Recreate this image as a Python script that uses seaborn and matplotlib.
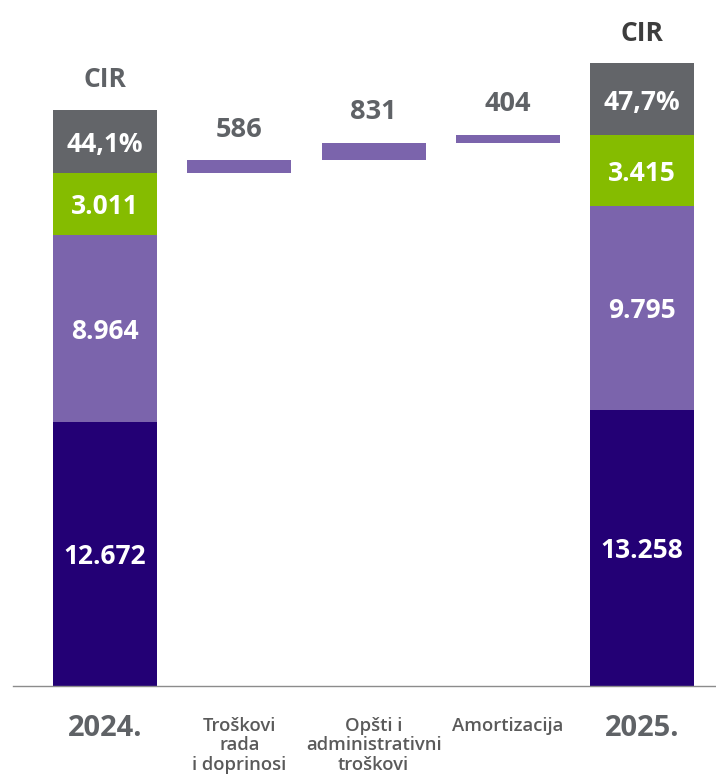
import numpy as np
import pandas as pd
import matplotlib
matplotlib.use("Agg")
import matplotlib.pyplot as plt
import seaborn as sns

# ---------------- data ----------------
categories = ["2024.", "Troškovi\nrada\ni doprinosi", "Opšti i\nadministrativni\ntroškovi",
              "Amortizacija", "2025."]
staff_costs = [12672, 0, 0, 0, 13258]      # Troškovi rada i doprinosi
admin_costs = [8964, 0, 0, 0, 9795]        # Opšti i administrativni troškovi
amortization = [3011, 0, 0, 0, 3415]       # Amortizacija
changes = [0, 586, 831, 404, 0]            # year-over-year increments
cir_labels = ["44,1%", "", "", "", "47,7%"]
value_labels_staff = ["12.672", "", "", "", "13.258"]
value_labels_admin = ["8.964", "", "", "", "9.795"]
value_labels_amort = ["3.011", "", "", "", "3.415"]
change_labels = ["", "586", "831", "404", ""]

# ---------------- style ----------------
NAVY = "#230075"
PURPLE = "#7B64AC"
GREEN = "#85BC00"
GRAY = "#636569"
TXT_GRAY = "#5f6266"

sns.set_theme(style="white")
plt.rcParams["font.family"] = ["Open Sans", "DejaVu Sans"]

fig = plt.figure(figsize=(7.16, 7.81), dpi=100)
ax = fig.add_axes([13 / 716, 95 / 781, 703 / 716, 686 / 781])

staff = np.array(staff_costs, dtype=float)
admin = np.array(admin_costs, dtype=float)
amort = np.array(amortization, dtype=float)
chg = np.array(changes, dtype=float)
totals = staff + admin + amort
is_year = totals > 0
# floating bars start at the previous year's total and accumulate
start_total = totals[0]
float_bottom = start_total + np.concatenate([[0], np.cumsum(chg)[:-1]])
float_bottom[is_year] = 0
cir_box = np.where(is_year, amort, 0)   # CIR box drawn with height of the green segment

W = 0.774


def bars(values, bottom, color):
    df = pd.DataFrame({"category": categories, "value": values})
    sns.barplot(data=df, x="category", y="value", order=categories, color=color,
                saturation=1, width=W, errorbar=None, bottom=np.asarray(bottom, dtype=float),
                linewidth=0, edgecolor="none", ax=ax)


bars(staff, np.zeros(5), NAVY)
bars(admin, staff, PURPLE)
bars(amort, staff + admin, GREEN)
bars(cir_box, totals, GRAY)
bars(chg, float_bottom, PURPLE)

# ---------------- labels ----------------
lab_kw = dict(ha="center", va="center_baseline", color="white", fontsize=19, fontweight="bold")
for i in range(5):
    if is_year[i]:
        ax.text(i, staff[i] / 2, value_labels_staff[i], **lab_kw)
        ax.text(i, staff[i] + admin[i] / 2, value_labels_admin[i], **lab_kw)
        ax.text(i, staff[i] + admin[i] + amort[i] / 2, value_labels_amort[i], **lab_kw)
        ax.text(i, totals[i] + cir_box[i] / 2, cir_labels[i], **lab_kw)
        cir_color = TXT_GRAY if i == 0 else "#3d3d3d"
        ax.annotate("CIR", (i, totals[i] + cir_box[i]), xytext=(0, 16.5),
                    textcoords="offset points", ha="center", va="baseline",
                    fontsize=19, fontweight="bold", color=cir_color)
    else:
        ax.annotate(change_labels[i], (i, float_bottom[i] + chg[i]), xytext=(0, 17),
                    textcoords="offset points", ha="center", va="baseline",
                    fontsize=19.5, fontweight="bold", color=TXT_GRAY)

# category labels under the axis
ax.set_xticks(range(5))
ax.set_xticklabels([""] * 5)
ax.tick_params(axis="x", length=0)
for i, cat in enumerate(categories):
    if is_year[i]:
        ax.annotate(cat, (i, 0), xycoords=("data", "axes fraction"), xytext=(0, -28),
                    textcoords="offset points", ha="center", va="center_baseline",
                    fontsize=21, fontweight="bold", color=TXT_GRAY, annotation_clip=False)
    else:
        ax.annotate(cat, (i, 0), xycoords=("data", "axes fraction"), xytext=(0, -22),
                    textcoords="offset points", ha="center", va="top", multialignment="center",
                    fontsize=13.3, fontweight="semibold", color="#5a5a5a",
                    linespacing=1.12, annotation_clip=False)

ax.set_xlim(-0.685, 4.55)
ax.set_ylim(0, 686 * 48)
ax.set_yticks([])
ax.set_xlabel("")
ax.set_ylabel("")
for s in ["top", "left", "right"]:
    ax.spines[s].set_visible(False)
ax.spines["bottom"].set_color("#8c8c8c")
ax.spines["bottom"].set_linewidth(1.0)

fig.savefig("out.png", dpi=100)
